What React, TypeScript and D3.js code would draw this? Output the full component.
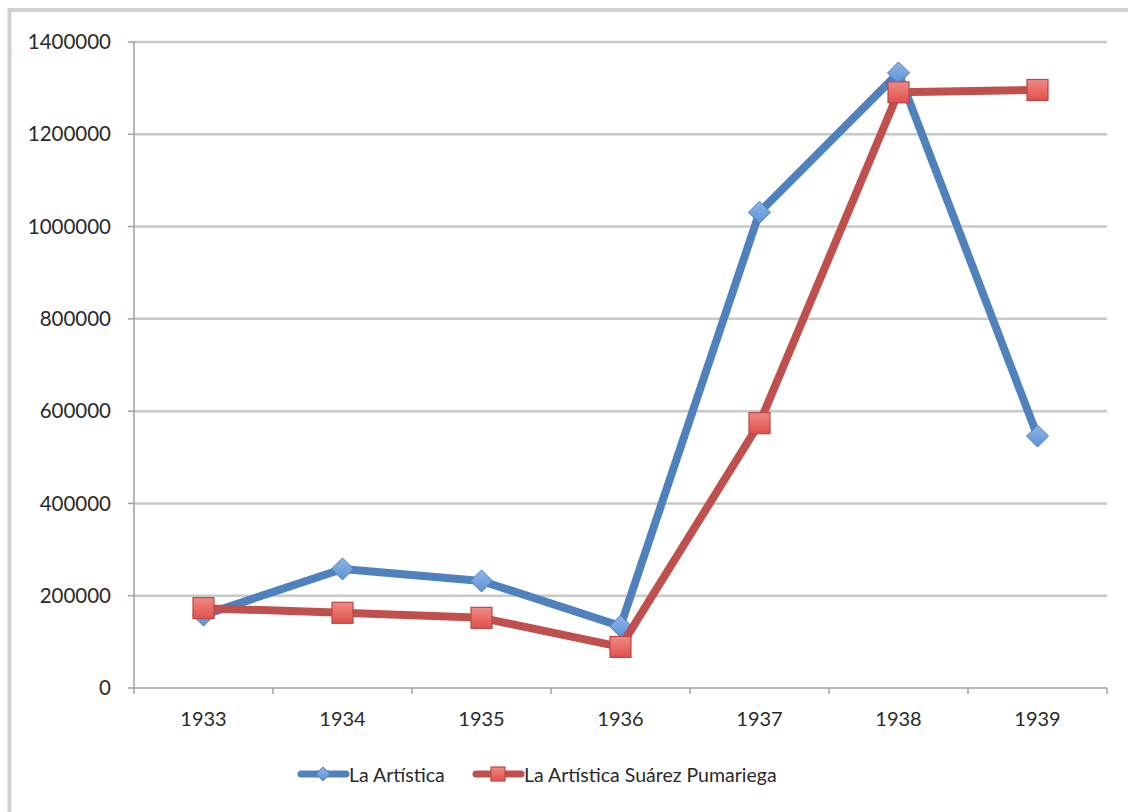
import React from "react";
import * as d3 from "d3";

const years = ["1933", "1934", "1935", "1936", "1937", "1938", "1939"];
const laArtistica = [158000, 258000, 232000, 134000, 1031000, 1333000, 546000];
const suarezPumariega = [173000, 163000, 152000, 89000, 574000, 1291000, 1296000];
const yTicks = [0, 200000, 400000, 600000, 800000, 1000000, 1200000, 1400000];
const seriesNames = ["La Artística", "La Artística Suárez Pumariega"];

const W = 1128;
const H = 812;
const left = 134;
const right = 1107;
const top = 42;
const bottom = 688;
const FONT = "Lato, 'Open Sans', sans-serif";

export default function App() {
  const x = d3.scaleBand<string>().domain(years).range([left, right]);
  const y = d3.scaleLinear().domain([0, 1400000]).range([bottom, top]);
  const cx = (yr: string) => (x(yr) as number) + x.bandwidth() / 2;
  const line = d3
    .line<number>()
    .x((_, i) => cx(years[i]))
    .y((d) => y(d));

  const blue = "#4F81BD";
  const red = "#C0504D";

  const diamond = (px: number, py: number, r: number, key: string) => (
    <path
      key={key}
      d={`M${px},${py - r}L${px + r},${py}L${px},${py + r}L${px - r},${py}Z`}
      fill="url(#gBlue)"
      stroke="#4A7EBB"
      strokeWidth={1}
    />
  );
  const square = (px: number, py: number, s: number, key: string) => (
    <rect
      key={key}
      x={px - s / 2}
      y={py - s / 2}
      width={s}
      height={s}
      fill="url(#gRed)"
      stroke="#B84946"
      strokeWidth={1.2}
    />
  );

  const ticks = years.map((_, i) => left + i * x.bandwidth()).concat([right]);

  return (
    <div style={{ position: "absolute", left: 0, top: 0 }}>
      <svg width={W} height={H} style={{ display: "block", background: "#fff" }}>
        <defs>
          <linearGradient id="gBlue" x1="0" y1="0" x2="0" y2="1">
            <stop offset="0" stopColor="#8DB6E8" />
            <stop offset="1" stopColor="#5E92D6" />
          </linearGradient>
          <linearGradient id="gRed" x1="0" y1="0" x2="0" y2="1">
            <stop offset="0" stopColor="#F08A86" />
            <stop offset="1" stopColor="#E0504C" />
          </linearGradient>
        </defs>
        <rect x={9.5} y={10} width={1140} height={830} fill="none" stroke="#D0D0D0" strokeWidth={4} />
        {yTicks.map((t) => (
          <g key={t}>
            {t > 0 && (
              <line x1={left} x2={right} y1={y(t)} y2={y(t)} stroke="#C8C8C8" strokeWidth={2.5} />
            )}
            <line x1={left - 6} x2={left} y1={y(t)} y2={y(t)} stroke="#A0A0A0" strokeWidth={1.5} />
            <text
              x={111}
              y={y(t)}
              dy="0.35em"
              textAnchor="end"
              fontFamily={FONT}
              fontSize={20.5}
              fill="#2a2a2a"
            >
              {t}
            </text>
          </g>
        ))}
        <line x1={left} x2={left} y1={top} y2={bottom} stroke="#A0A0A0" strokeWidth={1.5} />
        <line x1={left} x2={right} y1={bottom} y2={bottom} stroke="#A0A0A0" strokeWidth={1.5} />
        {ticks.map((tx, i) => (
          <line key={i} x1={tx} x2={tx} y1={bottom} y2={bottom + 6} stroke="#A0A0A0" strokeWidth={1.5} />
        ))}
        {years.map((yr) => (
          <text
            key={yr}
            x={cx(yr)}
            y={719}
            dy="0.35em"
            textAnchor="middle"
            fontFamily={FONT}
            fontSize={20}
            fill="#2a2a2a"
          >
            {yr}
          </text>
        ))}
        <path d={line(laArtistica) as string} fill="none" stroke={blue} strokeWidth={8} strokeLinejoin="round" />
        {laArtistica.map((v, i) => diamond(cx(years[i]), y(v), 11, "b" + i))}
        <path d={line(suarezPumariega) as string} fill="none" stroke={red} strokeWidth={8} strokeLinejoin="round" />
        {suarezPumariega.map((v, i) => square(cx(years[i]), y(v), 21, "r" + i))}
        <line x1={301} x2={346} y1={774} y2={774} stroke={blue} strokeWidth={7} strokeLinecap="round" />
        {diamond(323, 774, 7, "lb")}
        <text x={349} y={775} dy="0.35em" fontFamily={FONT} fontSize={19.5} fill="#2a2a2a">
          {seriesNames[0]}
        </text>
        <line x1={476} x2={521} y1={774} y2={774} stroke={red} strokeWidth={7} strokeLinecap="round" />
        {square(498, 774, 14, "lr")}
        <text x={524} y={775} dy="0.35em" fontFamily={FONT} fontSize={19.5} fill="#2a2a2a">
          {seriesNames[1]}
        </text>
      </svg>
    </div>
  );
}
